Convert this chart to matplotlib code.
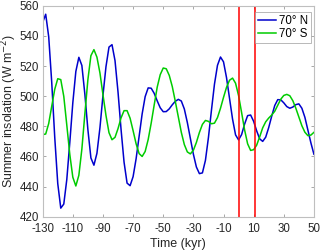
import numpy as np
import matplotlib
matplotlib.use('Agg')
import matplotlib.pyplot as plt

# --- data ---
time_kyr = list(range(-130, 52, 2))

insol_70n = [549.0, 554.4, 539.4, 509.2, 472.7, 442.0, 425.7, 428.4, 444.7, 469.4,
             495.7, 516.4, 525.8, 520.4, 501.2, 477.8, 459.0, 454.2, 462.1, 479.1,
             500.5, 519.6, 532.6, 534.2, 523.6, 502.7, 478.0, 456.2, 442.3, 440.6,
             446.6, 458.5, 473.4, 488.2, 499.7, 505.5, 505.3, 501.9, 496.9, 492.3,
             489.7, 489.8, 491.6, 494.3, 496.6, 497.9, 496.8, 491.5, 482.5, 472.0,
             461.5, 453.0, 448.6, 449.1, 457.4, 472.6, 490.7, 508.0, 520.5, 526.0,
             522.8, 512.3, 498.5, 484.8, 474.3, 471.0, 474.5, 481.5, 487.1, 487.5,
             483.3, 477.0, 471.7, 470.0, 472.8, 479.2, 486.8, 493.8, 497.7, 497.6,
             495.6, 493.1, 492.0, 492.8, 494.4, 494.9, 492.0, 486.0, 477.5, 469.0,
             461.5]

insol_70s = [474.5, 474.9, 481.9, 493.3, 504.6, 511.6, 511.0, 499.9, 480.8, 461.3,
             446.2, 440.4, 447.5, 464.9, 488.4, 511.0, 526.9, 530.9, 525.9, 515.4,
             501.0, 487.2, 475.8, 471.1, 472.7, 478.5, 485.6, 490.4, 490.4, 485.4,
             477.1, 468.4, 461.9, 460.0, 463.3, 471.2, 482.1, 494.2, 506.0, 514.3,
             518.7, 518.2, 513.8, 506.4, 496.6, 486.3, 476.0, 467.9, 463.0, 461.7,
             464.1, 469.3, 475.9, 481.3, 483.9, 483.3, 481.7, 482.1, 485.8, 492.0,
             499.2, 505.9, 510.6, 512.0, 508.6, 500.4, 489.2, 477.6, 468.4, 464.0,
             464.5, 467.5, 473.0, 479.0, 483.0, 485.5, 487.5, 490.0, 494.0, 498.0,
             500.5, 501.2, 500.3, 497.0, 492.0, 486.2, 480.4, 476.1, 473.8, 474.2,
             476.0]

red_lines = [0, 11]

plt.rcParams['font.family'] = ['Liberation Sans', 'DejaVu Sans']
plt.rcParams['font.size'] = 8.3
plt.rcParams['axes.unicode_minus'] = False

fig = plt.figure(figsize=(3.2, 2.52), dpi=100)
ax = fig.add_axes([0.1334, 0.14, 0.8476, 0.837])

ax.plot(time_kyr, insol_70n, color='#0000cc', lw=1.1, label='70° N')
ax.plot(time_kyr, insol_70s, color='#00cc00', lw=1.1, label='70° S')
for x in red_lines:
    ax.axvline(x, color='red', lw=1.1)

ax.set_xlim(-130, 50)
ax.set_ylim(420, 560)
ax.set_xticks(np.arange(-130, 51, 20))
ax.set_yticks(np.arange(420, 561, 20))

grey = '0.15'
for s in ax.spines.values():
    s.set_color('0.75')
    s.set_linewidth(0.8)
ax.tick_params(axis='both', direction='in', top=True, right=True, length=2.5,
               width=0.6, color='0.6', labelcolor=grey)
ax.tick_params(axis='x', pad=4.5)
ax.tick_params(axis='y', pad=2.5)
ax.set_xlabel('Time (kyr)', color=grey, fontsize=9.0, labelpad=2)
ax.set_ylabel('Summer insolation (W m$^{-2}$)', color=grey, fontsize=8.9, labelpad=0.5)

leg = ax.legend(loc='upper right', bbox_to_anchor=(0.989, 0.972), fontsize=8.3,
                frameon=True, fancybox=False, borderaxespad=0, borderpad=0.25,
                handlelength=1.6, handletextpad=0.25, labelspacing=0.15)
leg.get_frame().set_edgecolor('0.6')
leg.get_frame().set_linewidth(0.6)

fig.savefig('out.png', dpi=100)
